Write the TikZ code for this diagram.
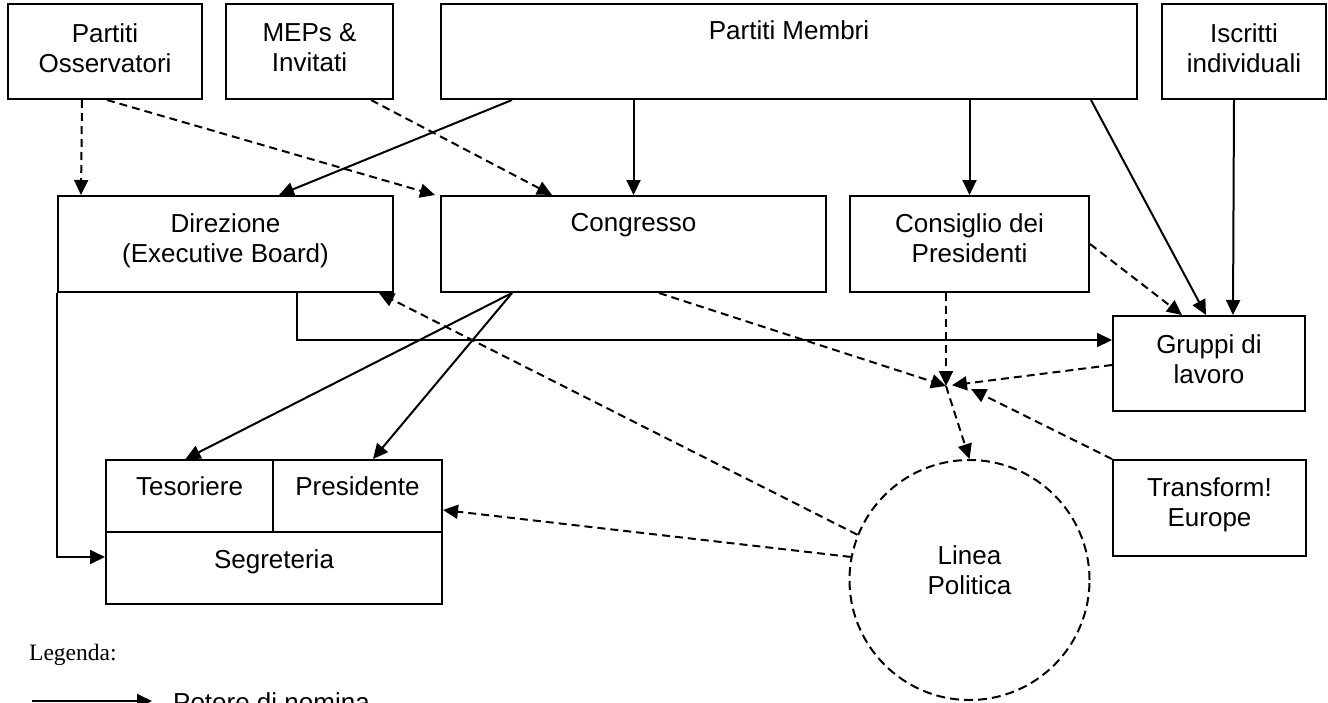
\documentclass[tikz,border=0pt]{standalone}
\usepackage{fontspec}
\setmainfont{Liberation Sans}
\newfontfamily\legfont{Liberation Serif}
\usetikzlibrary{arrows.meta,calc}
\begin{document}
\begin{tikzpicture}[x=1pt,y=-1pt,
  box/.style={draw,line width=2pt,rectangle,inner sep=0pt},
  txt/.style={font=\fontsize{26}{30}\selectfont,align=center,anchor=north,inner sep=0pt},
  conn/.style={line width=2pt,-{Triangle[length=15pt,width=14pt]}},
  dconn/.style={conn,dash pattern=on 8pt off 5pt},
]
\fill[white] (0,0) rectangle (1328,702);
\useasboundingbox (0,0) rectangle (1328,702);

% boxes
\node[box,minimum width=194pt,minimum height=95pt] (po) at (105,51.5) {};
\node[box,minimum width=167pt,minimum height=95pt] (mep) at (309.5,51.5) {};
\node[box,minimum width=696pt,minimum height=95pt] (pm) at (789,51.5) {};
\node[box,minimum width=164pt,minimum height=95pt] (isc) at (1244,51.5) {};
\node[box,minimum width=335pt,minimum height=96pt] (dir) at (225.5,244) {};
\node[box,minimum width=385pt,minimum height=96pt] (cong) at (633.5,244) {};
\node[box,minimum width=239pt,minimum height=96pt] (cons) at (969.5,244) {};
\node[box,minimum width=192pt,minimum height=95pt] (grp) at (1209,363.5) {};
\node[box,minimum width=193pt,minimum height=96pt] (tra) at (1209.5,508) {};
\node[box,minimum width=167pt,minimum height=72pt] (tes) at (189.5,496) {};
\node[box,minimum width=169pt,minimum height=72pt] (pres) at (357.5,496) {};
\node[box,minimum width=336pt,minimum height=72pt] (seg) at (274,568) {};
\node[draw,circle,line width=2pt,dash pattern=on 9pt off 5pt,minimum size=240pt,inner sep=0pt] (lp) at (969.5,580) {};

% texts
\node[txt] (tpo) at (105,23) {Partiti\\Osservatori};
\node[txt] (tmep) at (309.5,23) {MEPs \&\\Invitati};
\node[txt] (tpm) at (789,20) {Partiti Membri};
\node[txt] (tisc) at (1244,23) {Iscritti\\individuali};
\node[txt] (tdir) at (225.5,213) {Direzione\\(Executive Board)};
\node[txt] (tcong) at (633.5,213) {Congresso};
\node[txt] (tcons) at (969.5,213) {Consiglio dei\\Presidenti};
\node[txt] (tgrp) at (1209,334) {Gruppi di\\lavoro};
\node[txt] (ttra) at (1209.5,477) {Transform!\\Europe};
\node[txt] (ttes) at (189.5,476) {Tesoriere};
\node[txt] (tpres) at (357.5,476) {Presidente};
\node[txt] (tseg) at (274,549) {Segreteria};
\node[txt] (tlp) at (969.5,545) {Linea\\Politica};

\coordinate (cv) at (946,386);
\coordinate (cvT) at (971,389);

% solid connectors
\draw[conn] ([xshift=72pt]pm.south west) -- ([xshift=222pt]dir.north west);
\draw[conn] (pm.south -| cong.north) -- (cong.north);
\draw[conn] (pm.south -| cons.north) -- (cons.north);
\draw[conn] ([xshift=-47pt]pm.south east) -- ([xshift=94pt]grp.north west);
\draw[conn] ([xshift=-10pt]isc.south) -- ([xshift=121pt]grp.north west);
\draw[conn] ([xshift=240pt]dir.south west) |- ([yshift=23.5pt]grp.west);
\draw[conn] (dir.south west) |- ([yshift=11pt]seg.west);
\draw[conn] ([xshift=72pt]cong.south west) -- ([xshift=-4pt]tes.north);
\draw[conn] ([xshift=72pt]cong.south west) -- ([xshift=15.5pt]pres.north);

% dashed connectors
\draw[dconn] ([xshift=-23pt]po.south) -- ([xshift=24pt]dir.north west);
\draw[dconn] ([xshift=2pt]po.south) -- ([xshift=-5pt]cong.north west);
\draw[dconn] ([xshift=-23pt]mep.south east) -- ([xshift=112pt]cong.north west);
\draw[dconn] ([xshift=-168pt]cong.south east) -- (cv);
\draw[dconn] (cons.south -| cv) -- (cv);
\draw[dconn] (cons.east) -- ([xshift=70pt]grp.north west);
\draw[dconn,shorten >=6pt] ([yshift=-1.5pt]grp.west) -- (cv);
\draw[dconn] (tra.north west) -- (cvT);
\draw[dconn] (cv) -- (lp.north);
\draw[dconn] (lp.169) -- ([yshift=-14pt]pres.east);
\draw[dconn] (lp.158) -- ([xshift=-15pt]dir.south east);

% legend
\node[font=\legfont\fontsize{23.5}{28}\selectfont,anchor=base west,inner sep=0pt] (leg) at (29,660) {Legenda:};
\coordinate (lg1) at (32,701);
\coordinate (lg2) at (152,701);
\draw[conn] (lg1) -- (lg2);
\node[txt,anchor=base west] (lgt) at (173,711) {Potere di nomina};
\end{tikzpicture}
\end{document}
